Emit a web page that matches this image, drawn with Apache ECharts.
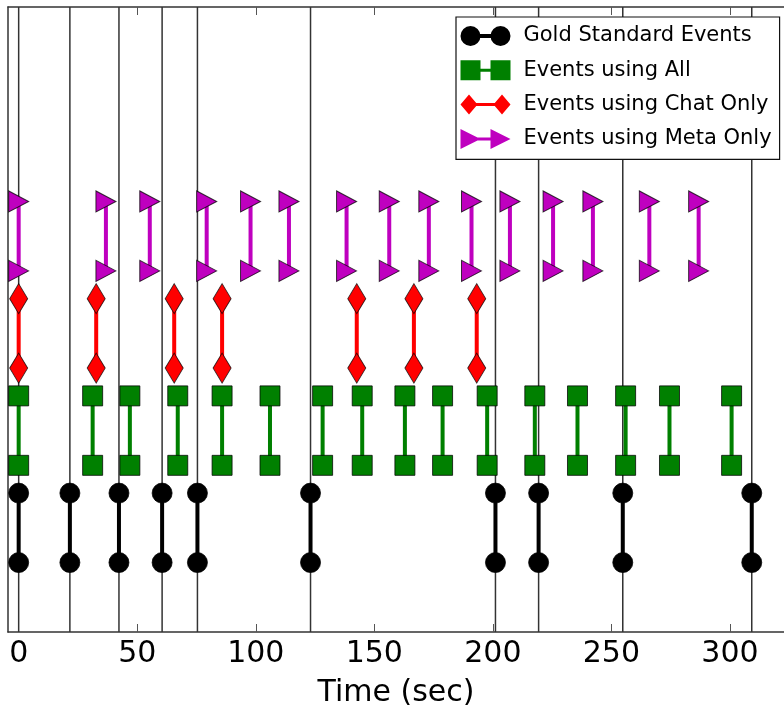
<!DOCTYPE html>
<html><head><meta charset="utf-8">
<script src="https://cdn.jsdelivr.net/npm/echarts@6/dist/echarts.min.js"></script>
<style>html,body{margin:0;padding:0;background:#fff}#c{width:784px;height:713px}</style>
</head><body><div id="c"></div>
<script>
// Event times (sec)
const goldTimes = [0, 21.6, 42.3, 60.5, 75.4, 123.1, 201.1, 219.3, 254.8, 309.2];
const allTimes  = [0, 31.2, 46.9, 67.1, 85.8, 106, 128.2, 144.9, 162.9, 178.8, 197.6, 217.7, 235.7, 256, 274.5, 300.7];
const chatTimes = [0, 32.7, 65.6, 85.8, 142.6, 166.7, 193.2];
const metaTimes = [0, 36.8, 55.3, 79.3, 97.8, 114, 138.3, 156.3, 173, 191, 207.2, 225.4, 242.2, 266, 286.8];
// Lower / upper level for each event row
const goldLevels = [0, 1];
const allLevels  = [1.4, 2.4];
const chatLevels = [2.8, 3.8];
const metaLevels = [4.2, 5.2];
const tickValues = [0, 50, 100, 150, 200, 250, 300];
const seriesNames = ['Gold Standard Events', 'Events using All', 'Events using Chat Only', 'Events using Meta Only'];
const xMin = -4.5, xMax = 322.8, yMin = -1, yMax = 8;

function segments(times, levels) {
  const out = [];
  times.forEach(t => { out.push([t, levels[0]], [t, levels[1]], [t, '-']); });
  return out;
}

const FONT = 'DejaVu Sans';
const edge = 'rgba(0,0,0,0.75)';

function eventSeries(name, times, levels, color, symbol, size, rotate) {
  return {
    name: name, type: 'line', data: segments(times, levels),
    symbol: symbol, symbolSize: size, symbolRotate: rotate || 0,
    showSymbol: true, showAllSymbol: true, connectNulls: false,
    lineStyle: { color: color, width: 4 },
    itemStyle: { color: color, borderColor: edge, borderWidth: 1 },
    emphasis: { disabled: true }, silent: true, z: 3, clip: false
  };
}

const chart = echarts.init(document.getElementById('c'), null, { renderer: 'canvas' });
chart.setOption({
  animation: false,
  backgroundColor: '#fff',
  grid: { left: 8, top: 7, right: 0, height: 629.7, containLabel: false },
  xAxis: [{
    type: 'value', min: xMin, max: xMax, position: 'bottom',
    name: 'Time (sec)', nameLocation: 'middle', nameGap: 46,
    nameTextStyle: { fontFamily: FONT, fontSize: 30, lineHeight: 30, color: '#000' },
    axisLine: { show: true, onZero: false, lineStyle: { color: '#333', width: 1.5 } },
    axisTick: { show: true, inside: true, length: 8, customValues: tickValues, lineStyle: { color: '#555', width: 1 } },
    axisLabel: { show: true, customValues: tickValues, margin: 7, fontFamily: FONT, fontSize: 30, lineHeight: 30, color: '#000' },
    splitLine: { show: false }
  }, {
    type: 'value', min: xMin, max: xMax, position: 'top',
    axisLine: { show: true, onZero: false, lineStyle: { color: '#333', width: 1.5 } },
    axisTick: { show: true, inside: true, length: 8, customValues: tickValues, lineStyle: { color: '#555', width: 1 } },
    axisLabel: { show: false },
    splitLine: { show: false }
  }],
  yAxis: {
    type: 'value', min: yMin, max: yMax,
    axisLine: { show: true, onZero: false, lineStyle: { color: '#333', width: 1.5 } },
    axisTick: { show: false }, axisLabel: { show: false }, splitLine: { show: false }
  },
  legend: {
    orient: 'vertical', left: 456, top: 17,
    padding: [8.5, 8, 10, 4.5], itemGap: 13.3,
    itemWidth: 50, itemHeight: 20,
    backgroundColor: '#fff', borderColor: '#111', borderWidth: 1.2, borderRadius: 0,
    textStyle: { fontFamily: FONT, fontSize: 21, lineHeight: 20, color: '#000', padding: [0, 0, 0, 8] },
    itemStyle: { borderWidth: 0 },
    selectedMode: false,
    data: [
      { name: seriesNames[0], icon: 'path://M0,10A10,10,0,1,1,20,10A10,10,0,1,1,0,10ZM19,8L31,8L31,12L19,12ZM30,10A10,10,0,1,1,50,10A10,10,0,1,1,30,10Z' },
      { name: seriesNames[1], icon: 'path://M0,0L20,0L20,20L0,20ZM19,8.5L31,8.5L31,11.5L19,11.5ZM30,0L50,0L50,20L30,20Z' },
      { name: seriesNames[2], icon: 'path://M0,10L8.5,0L17,10L8.5,20ZM15,8.5L35,8.5L35,11.5L15,11.5ZM33,10L41.5,0L50,10L41.5,20Z' },
      { name: seriesNames[3], icon: 'path://M0,0L20,10L0,20ZM15,8.5L35,8.5L35,11.5L15,11.5ZM30,0L50,10L30,20Z' }
    ]
  },
  series: [
    {
      name: 'gold-lines', type: 'line', data: segments(goldTimes, [yMin, yMax]),
      symbol: 'none', connectNulls: false, silent: true, z: 1,
      lineStyle: { color: '#333', width: 1.5 }, emphasis: { disabled: true }
    },
    eventSeries(seriesNames[0], goldTimes, goldLevels, '#000000', 'circle', 20),
    eventSeries(seriesNames[1], allTimes, allLevels, '#008000', 'rect', 20),
    eventSeries(seriesNames[2], chatTimes, chatLevels, '#ff0000', 'diamond', [18, 30]),
    eventSeries(seriesNames[3], metaTimes, metaLevels, '#bf00bf', 'triangle', [21, 20], -90)
  ]
});
</script></body></html>
